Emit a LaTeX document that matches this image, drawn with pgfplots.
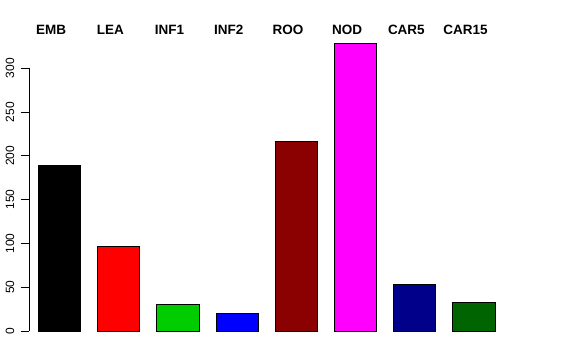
\documentclass[border=0pt]{standalone}
\usepackage{fontspec}
\setmainfont{Liberation Sans}
\usepackage{pgfplots}
\pgfplotsset{compat=1.18}
\definecolor{rred}{HTML}{FF0000}
\definecolor{green3}{HTML}{00CD00}
\definecolor{rblue}{HTML}{0000FF}
\definecolor{rdarkred}{HTML}{8B0000}
\definecolor{rmagenta}{HTML}{FF00FF}
\definecolor{rdarkblue}{HTML}{00008B}
\definecolor{rdarkgreen}{HTML}{006400}
\begin{document}
\begin{tikzpicture}[x=1pt,y=1pt]
\path[use as bounding box, fill=white] (0,0) rectangle (576,360);
\begin{axis}[
 at={(29pt,29pt)}, anchor=south west,
 scale only axis, width=501pt, height=262.7pt,
 xmin=-0.515, xmax=7.948, ymin=0, ymax=300,
 clip=false,
 axis x line=none, axis y line*=left,
 ytick={0,50,...,300},
 tick align=outside, major tick length=8pt,
 every tick/.style={black, line width=0.75pt},
 axis line style={black, line width=0.75pt},
 yticklabel style={xshift=-7pt, rotate=90, anchor=base, inner sep=0pt, font=\fontsize{12}{14}\selectfont},
 /pgf/number format/assume math mode=true,
]
\addplot[ybar, bar width=0.714, fill=black, draw=black, line width=0.75pt] coordinates {(0,189)};
\addplot[ybar, bar width=0.714, fill=rred, draw=black, line width=0.75pt] coordinates {(1,97)};
\addplot[ybar, bar width=0.714, fill=green3, draw=black, line width=0.75pt] coordinates {(2,30)};
\addplot[ybar, bar width=0.714, fill=rblue, draw=black, line width=0.75pt] coordinates {(3,20)};
\addplot[ybar, bar width=0.714, fill=rdarkred, draw=black, line width=0.75pt] coordinates {(4,217)};
\addplot[ybar, bar width=0.714, fill=rmagenta, draw=black, line width=0.75pt] coordinates {(5,329)};
\addplot[ybar, bar width=0.714, fill=rdarkblue, draw=black, line width=0.75pt] coordinates {(6,53)};
\addplot[ybar, bar width=0.714, fill=rdarkgreen, draw=black, line width=0.75pt] coordinates {(7,33)};
\begin{scope}[every node/.style={anchor=base, xshift=-8.3pt, font=\bfseries\fontsize{13.5}{16}\selectfont}]
\node at (axis cs:0,338.8) {EMB};
\node at (axis cs:1,338.8) {LEA};
\node at (axis cs:2,338.8) {INF1};
\node at (axis cs:3,338.8) {INF2};
\node at (axis cs:4,338.8) {ROO};
\node at (axis cs:5,338.8) {NOD};
\node at (axis cs:6,338.8) {CAR5};
\node at (axis cs:7,338.8) {CAR15};
\end{scope}
\end{axis}
\end{tikzpicture}
\end{document}
